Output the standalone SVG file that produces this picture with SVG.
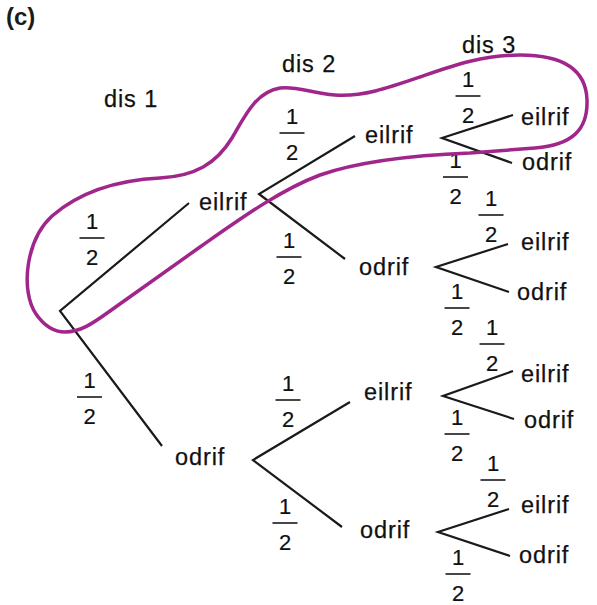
<svg xmlns="http://www.w3.org/2000/svg" width="597" height="605" viewBox="0 0 597 605">
<style>
.t{font-family:"Liberation Sans",Arial,sans-serif;font-size:23.5px;letter-spacing:0.9px;fill:#111;stroke:#111;stroke-width:0.25px}
.n{font-family:"Liberation Sans",Arial,sans-serif;font-size:22px;fill:#111;stroke:#111;stroke-width:0.2px;text-anchor:middle}
.b{stroke:#333;stroke-width:1.8}
.e{stroke:#1a1a1a;stroke-width:2.2;fill:none}
.loop{fill:none;stroke:#a0268c;stroke-width:3.5}
</style>
<defs>
<g id="half">
<text class="n" x="0" y="-9">1</text>
<line class="b" x1="-12.5" y1="0" x2="12.5" y2="0"/>
<text class="n" x="0" y="27">2</text>
</g>
</defs>
<rect width="597" height="605" fill="#fff"/>
<text x="6" y="25" style="font-family:'Liberation Sans',Arial,sans-serif;font-size:24px;font-weight:bold;fill:#1a1a1a">(c)</text>
<g id="headers">
<text class="t" x="104" y="107">dis 1</text>
<text class="t" x="282" y="72">dis 2</text>
<text class="t" x="462" y="53">dis 3</text>
</g>
<g id="connectors">
<polyline class="e" points="189,203 60,311 162,446"/>
<polyline class="e" points="355,136 259,194 345,259"/>
<polyline class="e" points="350,402 253,460 342,527"/>
<polyline class="e" points="513,115 442,138 512,163"/>
<polyline class="e" points="508,244 436,267 509,292"/>
<polyline class="e" points="513,371 443,396 514,419"/>
<polyline class="e" points="509,509 438,532 510,556"/>
</g>
<g id="probabilities">
<use href="#half" x="92" y="238"/>
<use href="#half" x="89.5" y="397"/>
<use href="#half" x="292" y="133"/>
<use href="#half" x="289" y="257"/>
<use href="#half" x="288" y="400"/>
<use href="#half" x="285" y="523"/>
<use href="#half" x="468" y="96"/>
<use href="#half" x="455.5" y="177"/>
<use href="#half" x="491" y="215"/>
<use href="#half" x="457" y="308"/>
<use href="#half" x="492" y="344"/>
<use href="#half" x="457" y="434"/>
<use href="#half" x="493" y="480"/>
<use href="#half" x="458" y="574"/>
</g>
<g id="n-e"><text class="t" x="199" y="210">eilrif</text></g>
<g id="n-o"><text class="t" x="175" y="465">odrif</text></g>
<g id="n-ee"><text class="t" x="365" y="143">eilrif</text></g>
<g id="n-eo"><text class="t" x="359" y="275">odrif</text></g>
<g id="n-oe"><text class="t" x="364" y="400">eilrif</text></g>
<g id="n-oo"><text class="t" x="360" y="538">odrif</text></g>
<g id="n-eee"><text class="t" x="521" y="125">eilrif</text></g>
<g id="n-eeo"><text class="t" x="522" y="170">odrif</text></g>
<g id="n-eoe"><text class="t" x="521" y="250">eilrif</text></g>
<g id="n-eoo"><text class="t" x="517" y="300">odrif</text></g>
<g id="n-oee"><text class="t" x="521" y="382">eilrif</text></g>
<g id="n-oeo"><text class="t" x="524" y="428">odrif</text></g>
<g id="n-ooe"><text class="t" x="521" y="513">eilrif</text></g>
<g id="n-ooo"><text class="t" x="519" y="563">odrif</text></g>
<g id="highlight">
<path class="loop" d="M65,332 C80,332 92,324 110,311 L200,247 C240,219 280,190 320,175 C360,161 420,155 470,153 L535,148 C572,145 588,130 587,100 C586,68 560,55 520,55 C482,55 452,66 420,77 C388,88 362,97 335,95 C310,93 298,86 280,88 C255,92 244,118 232,138 C216,164 195,176 160,178 C120,180 82,190 52,216 C26,240 20,290 36,314 C45,327 55,332 65,332 Z"/>
</g>
</svg>
